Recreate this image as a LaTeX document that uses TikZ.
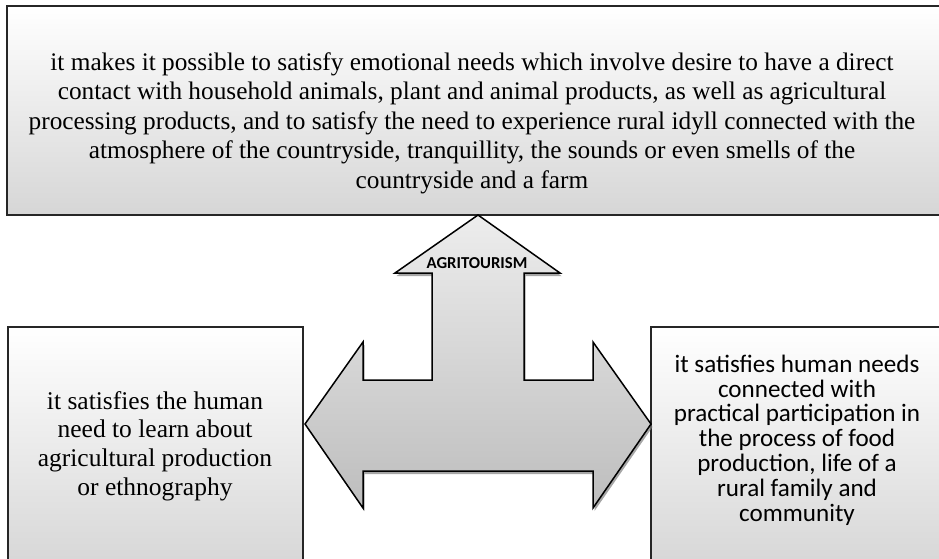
\documentclass[tikz,border=0pt]{standalone}
\usepackage{fontspec}
\setmainfont{Liberation Serif}
\newfontfamily\calfont{Carlito}
\usetikzlibrary{shadows}
\definecolor{boxbot}{HTML}{D6D6D6}
\definecolor{arrtop}{HTML}{EDEDED}
\definecolor{arrbot}{HTML}{BDBDBD}
\tikzset{
  panel/.style={draw=black!85, line width=1.4pt, shading=axis, top color=white, bottom color=boxbot},
  txt/.style={align=center, inner sep=0pt},
  bigarrow/.style={draw=black, line width=1.5pt, line join=miter, shading=axis, top color=arrtop, bottom color=arrbot,
    drop shadow={shadow xshift=1.5pt, shadow yshift=-3pt, fill=black!50, opacity=0.7}},
}
\begin{document}
\begin{tikzpicture}[x=1pt,y=-1pt]
\useasboundingbox (0,0) rectangle (939,558);
\clip (0,0) rectangle (939,558);
% panels
\path[panel] (7,6) rectangle (945,215);
\path[panel] (8,327) rectangle (303,570);
\path[panel] (651,327) rectangle (950,570);
% arrow
\path[bigarrow] (478,215) -- (560,273) -- (524,273) -- (524,380) -- (593,380) -- (593,342)
  -- (651,424) -- (593,508) -- (593,471) -- (363,471) -- (363,508) -- (305,424)
  -- (363,342) -- (363,380) -- (432,380) -- (432,273) -- (395,273) -- cycle;
\node[txt, font=\calfont\bfseries\fontsize{16.7}{18}\selectfont] (label) at (477,263) {AGRITOURISM};
% texts
\node[txt, font=\fontsize{25.3}{29.5}\selectfont] (top) at (472,123)
 {it makes it possible to satisfy emotional needs which involve desire to have a direct\\
  contact with household animals, plant and animal products, as well as agricultural\\
  processing products, and to satisfy the need to experience rural idyll connected with the\\
  atmosphere of the countryside, tranquillity, the sounds or even smells of the\\
  countryside and a farm};
\node[txt, font=\fontsize{25.5}{28.8}\selectfont] (left) at (155,446)
 {it satisfies the human\\ need to learn about\\ agricultural production\\ or ethnography};
\node[txt, font=\calfont\fontsize{25.1}{24.8}\selectfont] (right) at (797,440)
 {it satisfies human needs\\ connected with\\ practical participation in\\ the process of food\\ production, life of a\\ rural family and\\ community};
\end{tikzpicture}
\end{document}
